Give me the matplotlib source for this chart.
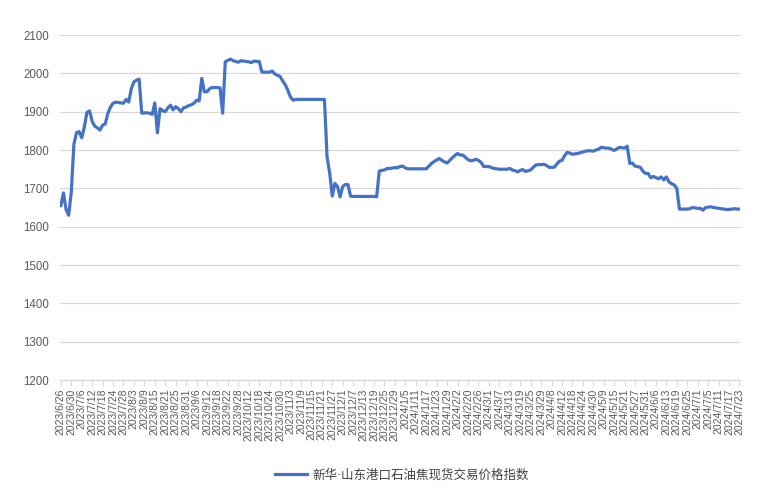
import numpy as np
import matplotlib
matplotlib.use('Agg')
import matplotlib.pyplot as plt

plt.rcParams['font.family'] = ['Noto Sans CJK SC', 'DejaVu Sans']

series_name = '新华·山东港口石油焦现货交易价格指数'

# tick labels, one every 4 trading days
tick_labels = [
    '2023/6/26', '2023/6/30', '2023/7/6', '2023/7/12', '2023/7/18', '2023/7/24',
    '2023/7/28', '2023/8/3', '2023/8/9', '2023/8/15', '2023/8/21', '2023/8/25',
    '2023/8/31', '2023/9/6', '2023/9/12', '2023/9/18', '2023/9/22', '2023/9/28',
    '2023/10/12', '2023/10/18', '2023/10/24', '2023/10/30', '2023/11/3', '2023/11/9',
    '2023/11/15', '2023/11/21', '2023/11/27', '2023/12/1', '2023/12/7', '2023/12/13',
    '2023/12/19', '2023/12/25', '2023/12/29', '2024/1/5', '2024/1/11', '2024/1/17',
    '2024/1/23', '2024/1/29', '2024/2/2', '2024/2/20', '2024/2/26', '2024/3/1',
    '2024/3/7', '2024/3/13', '2024/3/19', '2024/3/25', '2024/3/29', '2024/4/8',
    '2024/4/12', '2024/4/18', '2024/4/24', '2024/4/30', '2024/5/9', '2024/5/15',
    '2024/5/21', '2024/5/27', '2024/5/31', '2024/6/6', '2024/6/13', '2024/6/19',
    '2024/6/25', '2024/7/1', '2024/7/5', '2024/7/11', '2024/7/17', '2024/7/23',
]
tick_step = 4

# daily index values
values = [
    1655, 1688, 1645, 1630, 1690, 1815, 1845, 1848, 1832, 1860,
    1898, 1902, 1875, 1862, 1858, 1852, 1865, 1868, 1895, 1912,
    1922, 1925, 1924, 1923, 1922, 1932, 1925, 1960, 1978, 1982,
    1985, 1896, 1897, 1897, 1896, 1893, 1923, 1845, 1908, 1903,
    1900, 1910, 1917, 1905, 1913, 1908, 1900, 1910, 1912, 1916,
    1918, 1922, 1930, 1928, 1987, 1952, 1952, 1960, 1963, 1963,
    1963, 1962, 1896, 2030, 2034, 2037, 2033, 2031, 2029, 2033,
    2032, 2031, 2030, 2028, 2032, 2031, 2031, 2004, 2003, 2003,
    2003, 2006, 1998, 1995, 1992, 1980, 1970, 1955, 1938, 1930,
    1932, 1932, 1932, 1932, 1932, 1932, 1932, 1932, 1932, 1932,
    1932, 1932, 1782, 1740, 1680, 1713, 1705, 1678, 1705, 1710,
    1710, 1680, 1679, 1679, 1679, 1679, 1679, 1679, 1679, 1679,
    1679, 1678, 1745, 1747, 1748, 1752, 1752, 1753, 1754, 1754,
    1757, 1758, 1753, 1751, 1751, 1751, 1751, 1751, 1751, 1751,
    1751, 1758, 1765, 1770, 1774, 1778, 1773, 1769, 1766, 1773,
    1780, 1786, 1791, 1787, 1787, 1781, 1775, 1772, 1773, 1776,
    1773, 1768, 1757, 1757, 1757, 1754, 1752, 1751, 1750, 1750,
    1750, 1750, 1752, 1748, 1746, 1743, 1747, 1749, 1744, 1746,
    1748, 1755, 1761, 1762, 1762, 1763, 1760, 1755, 1755, 1755,
    1763, 1771, 1773, 1785, 1794, 1792, 1789, 1790, 1791, 1793,
    1795, 1797, 1798, 1798, 1797, 1800, 1802, 1807, 1806, 1805,
    1805, 1802, 1799, 1803, 1807, 1806, 1805, 1810, 1765, 1766,
    1758, 1757, 1755, 1745, 1739, 1739, 1728, 1731, 1728, 1725,
    1730, 1722, 1730, 1717, 1712, 1709, 1700, 1646, 1646, 1646,
    1646, 1647, 1650, 1649, 1648, 1648, 1643, 1650, 1651, 1652,
    1650, 1649, 1648, 1647, 1646, 1645, 1645, 1646, 1647, 1646,
    1646,
]

y_ticks = list(range(1200, 2101, 100))

fig = plt.figure(figsize=(7.8, 4.93), dpi=100)
ax = fig.add_axes([0.077, 0.229, 0.872, 0.700])

x = np.arange(len(values))
ax.plot(x, values, color='#4472C4', linewidth=2.3, label=series_name,
        solid_joinstyle='round')

ax.set_xlim(-0.3, len(values) - 0.7)
ax.set_ylim(1200, 2100)
ax.set_yticks(y_ticks)
ax.grid(axis='y', color='#D9D9D9', linewidth=0.9)
ax.set_axisbelow(True)

pos = [i * tick_step for i in range(len(tick_labels))]
ax.set_xticks(pos)
ax.set_xticklabels(tick_labels, rotation=90, fontsize=7.5, color='#595959',
                   family=['Liberation Sans', 'DejaVu Sans'])
ax.tick_params(axis='x', length=4, color='#D9D9D9', pad=2)
ax.tick_params(axis='y', length=0, labelsize=8.3, labelcolor='#595959', pad=8)
for lab in ax.get_yticklabels():
    lab.set_family(['Liberation Sans', 'DejaVu Sans'])

for s in ['top', 'right', 'left']:
    ax.spines[s].set_visible(False)
ax.spines['bottom'].set_color('#D9D9D9')
ax.spines['bottom'].set_linewidth(0.9)

fig.legend(loc='center', bbox_to_anchor=(0.515, 0.036), frameon=False,
           prop={'family': ['DejaVu Sans', 'Noto Sans CJK SC'], 'size': 9},
           labelcolor='#404040', handlelength=2.6, handletextpad=0.4)

fig.savefig('out.png', dpi=100)
